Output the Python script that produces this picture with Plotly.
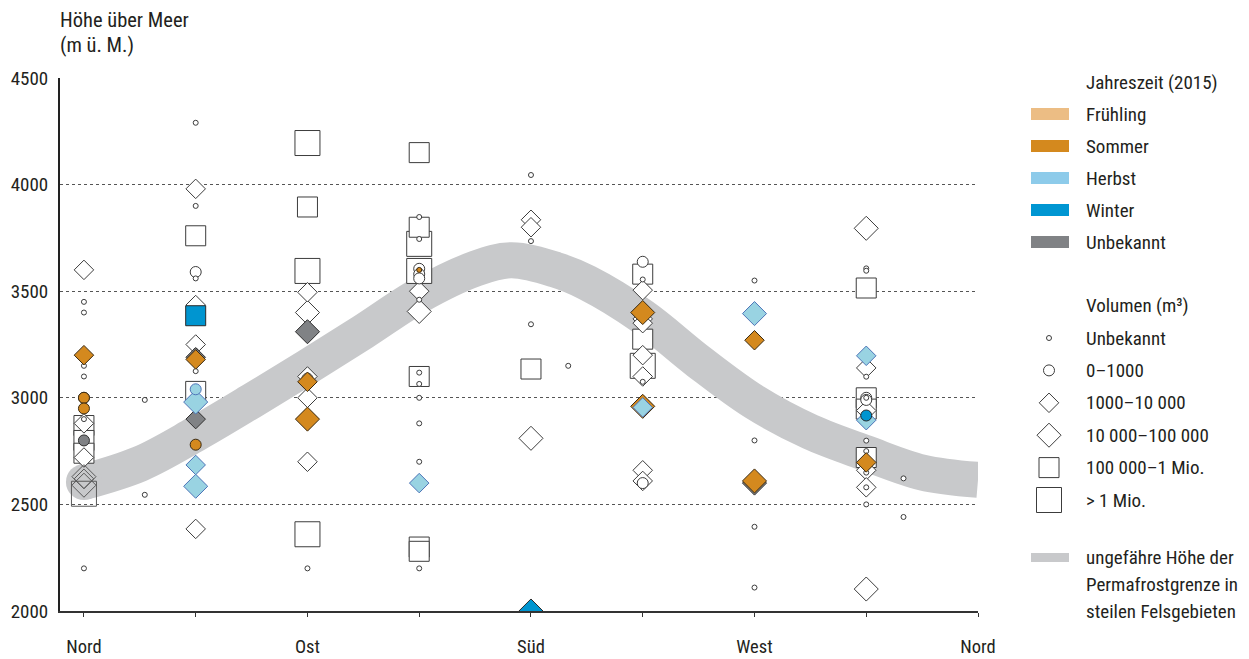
import plotly.graph_objects as go

W, H = 1249, 659

# --- axes -------------------------------------------------------------
RICHTUNG_TICKS = [0, 45, 90, 135, 180, 225, 270, 315, 360]
RICHTUNG_TEXT = ["Nord", "", "Ost", "", "Süd", "", "West", "", "Nord"]
HOEHE_TICKS = [2000, 2500, 3000, 3500, 4000, 4500]

# --- approximate permafrost limit in steep rock (centre of the band) ---
PERMAFROST_AZ = [0, 22.5, 45, 67.5, 90, 112.5, 135, 157.5, 172, 190, 202.5,
                 225, 247.5, 270, 292.5, 315, 337.5, 360]
PERMAFROST_H = [2605, 2690, 2830, 2985, 3145, 3310, 3480, 3605, 3645, 3600, 3540,
                3380, 3170, 2980, 2840, 2740, 2650, 2615]

# --- rockfall events 2015 ---------------------------------------------
# season: "-" no colour, "o" unfilled, "Un" unknown, "So" summer, "He" autumn, "Wi" winter
# volume: "u" unknown, "k" 0-1000, "d1" 1000-10 000, "d2" 10 000-100 000,
#         "q1" 100 000-1 Mio., "q2" > 1 Mio.
AZIMUT = (
    [0] * 21 + [24.5] * 2 +
    [45] * 21 +
    [90] * 14 +
    [135] * 23 +
    [180] * 8 + [195] +
    [225] * 17 +
    [270] * 8 +
    [315] * 26 + [330] * 2
)
HOEHE = [
    # Nord
    3600, 3450, 3400, 3200, 3150, 3100, 3000, 3000, 2950, 2900, 2880,
    2870, 2800, 2800, 2740, 2720, 2630, 2590, 2550, 2620, 2200,
    2990, 2545,
    # Nordost
    4290, 3980, 3900, 3760, 3590, 3560, 3435, 3385, 3250, 3220, 3190,
    3180, 3125, 3030, 3040, 2980, 2900, 2780, 2685, 2585, 2385,
    # Ost
    4195, 3895, 3595, 3495, 3400, 3310, 3100, 3090, 3075, 3000, 2900,
    2700, 2360, 2200,
    # Südost
    4150, 3848, 3800, 3745, 3722, 3595, 3605, 3580, 3560, 3600, 3500,
    3460, 3405, 3100, 3118, 3065, 3000, 2880, 2700, 2600, 2300, 2280, 2200,
    # Süd
    4045, 3835, 3800, 3735, 3345, 3135, 2810, 2000,
    3150,
    # Südwest
    3638, 3580, 3555, 3505, 3370, 3350, 3400, 3275, 3150, 3200, 3100,
    3075, 2960, 2955, 2660, 2610, 2600,
    # West
    3550, 3395, 3270, 2800, 2600, 2610, 2395, 2110,
    # Nordwest
    3795, 3607, 3596, 3515, 3197, 3140, 3175, 3099, 3000, 3000, 2990,
    3000, 2947, 2940, 2917, 2895, 2799, 2750, 2720, 2697, 2660, 2649,
    2580, 2580, 2500, 2103,
    2622, 2441,
]
SAISON = [
    # Nord
    "-", "-", "-", "So", "-", "-", "-", "So", "So", "-", "-",
    "-", "-", "Un", "-", "-", "o", "o", "o", "o", "-",
    "-", "-",
    # Nordost
    "-", "-", "-", "-", "-", "-", "-", "Wi", "-", "-", "Un",
    "So", "-", "-", "He", "He", "Un", "So", "He", "He", "-",
    # Ost
    "-", "-", "-", "-", "-", "Un", "-", "-", "So", "-", "So",
    "-", "-", "-",
    # Südost
    "-", "-", "-", "-", "-", "-", "-", "-", "-", "So", "-",
    "-", "-", "-", "-", "-", "-", "-", "-", "He", "-", "-", "-",
    # Süd
    "-", "-", "-", "-", "-", "-", "-", "Wi",
    "-",
    # Südwest
    "-", "-", "-", "-", "-", "-", "So", "-", "-", "-", "-",
    "-", "So", "He", "-", "-", "-",
    # West
    "-", "He", "So", "-", "Un", "So", "-", "-",
    # Nordwest
    "-", "-", "-", "-", "He", "-", "-", "-", "-", "-", "-",
    "-", "-", "-", "Wi", "He", "-", "-", "-", "So", "-", "-",
    "-", "-", "-", "-",
    "-", "-",
]
VOLUMEN = [
    # Nord
    "d1", "u", "u", "d1", "u", "u", "k", "k", "k", "u", "d1",
    "q1", "q1", "k", "q1", "d1", "d2", "d2", "q2", "d1", "u",
    "u", "u",
    # Nordost
    "u", "d1", "u", "q1", "k", "u", "d1", "q1", "d1", "u", "d1",
    "d1", "u", "q1", "k", "d2", "d1", "k", "d1", "d2", "d1",
    # Ost
    "q2", "q1", "q2", "d1", "d2", "d2", "d1", "k", "d1", "d1", "d2",
    "d1", "q2", "u",
    # Südost
    "q1", "u", "q1", "u", "q2", "q2", "k", "k", "k", "u", "d1",
    "u", "d2", "q1", "u", "u", "u", "u", "u", "d1", "q1", "q1", "u",
    # Süd
    "u", "d1", "d1", "u", "u", "q1", "d2", "d2",
    "u",
    # Südwest
    "k", "q1", "u", "d1", "d1", "d1", "d2", "q1", "q2", "d1", "d1",
    "u", "d2", "d1", "d1", "d1", "k",
    # West
    "u", "d2", "d1", "u", "d2", "d2", "u", "u",
    # Nordwest
    "d2", "u", "u", "q1", "d1", "d1", "u", "u", "q1", "k", "k",
    "u", "q1", "d1", "k", "d1", "u", "u", "q1", "d1", "d1", "u",
    "d1", "u", "u", "d2",
    "u", "u",
]

# --- legend content ---------------------------------------------------
SAISON_LABELS = ["Frühling", "Sommer", "Herbst", "Winter", "Unbekannt"]
SAISON_FARBEN = ["#ecbd84", "#d4891e", "#8dcbea", "#0096d2", "#808285"]
VOLUMEN_LABELS = ["Unbekannt", "0\u20131000", "1000\u201310\u00a0000",
                  "10\u00a0000\u2013100\u00a0000", "100\u00a0000\u20131 Mio.", "> 1 Mio."]
VOLUMEN_CODES = ["u", "k", "d1", "d2", "q1", "q2"]
BAND_LABEL = ["ungefähre Höhe der", "Permafrostgrenze in", "steilen Felsgebieten"]

# --- styling ----------------------------------------------------------
FONT = "Liberation Sans Narrow, Arial Narrow, Roboto Condensed, Roboto, sans-serif"
FS = 19
TXT = "#231f20"
BAND = "#c8c9cb"
SIZE = {"u": 5, "k": 11, "d1": 15, "d2": 18.5, "q1": 20, "q2": 25}
SYMBOL = {"u": "circle", "k": "circle", "d1": "diamond", "d2": "diamond",
          "q1": "square", "q2": "square"}
RANK = {"q2": 0, "q1": 1, "d2": 2, "d1": 3, "k": 4, "u": 5}
STIL = {
    "-": ("#ffffff", "#3c3c3c"),
    "o": ("rgba(0,0,0,0)", "#5a5a5a"),
    "Un": ("#808285", "#2d2d2d"),
    "So": ("#d4891e", "#3a2a12"),
    "He": ("#99d3e2", "#4d74b8"),
    "Wi": ("#0095d0", "#2a2a2a"),
}

# plot area in pixels
PX_L, PX_R, PX_T, PX_B = 60, 978, 78, 611

fig = go.Figure()

# permafrost band (thick smoothed line with a round start)
fig.add_trace(go.Scatter(
    x=PERMAFROST_AZ, y=PERMAFROST_H, mode="lines",
    line=dict(color=BAND, width=36, shape="spline", smoothing=1.0),
    hoverinfo="skip", showlegend=False))
fig.add_trace(go.Scatter(
    x=PERMAFROST_AZ[:1], y=PERMAFROST_H[:1], mode="markers",
    marker=dict(size=36, color=BAND, opacity=1, line=dict(width=0)),
    hoverinfo="skip", showlegend=False))

# events, one trace per season, large symbols first
n = len(HOEHE)
for s in ["-", "o", "Un", "So", "He", "Wi"]:
    idx = sorted([i for i in range(n) if SAISON[i] == s], key=lambda i: RANK[VOLUMEN[i]])
    if not idx:
        continue
    fill, edge = STIL[s]
    fig.add_trace(go.Scatter(
        x=[AZIMUT[i] for i in idx], y=[HOEHE[i] for i in idx], mode="markers",
        marker=dict(symbol=[SYMBOL[VOLUMEN[i]] for i in idx],
                    size=[SIZE[VOLUMEN[i]] for i in idx], opacity=1,
                    color=fill, line=dict(color=edge, width=1)),
        hoverinfo="skip", showlegend=False))

# ---- legend (pixel coordinate overlay axes) ----
LX_SW0, LX_SW1, LX_TXT, LX_SYM = 1031, 1069, 1084, 1049
shapes = []
annotations = []


def label(x, y, text, size=FS):
    annotations.append(dict(x=x, y=y, xref="x2", yref="y2", text=text, showarrow=False,
                            xanchor="left", yanchor="middle",
                            font=dict(family=FONT, size=size, color=TXT)))


label(LX_TXT, 82, "Jahreszeit (2015)")
for k, (lab, col) in enumerate(zip(SAISON_LABELS, SAISON_FARBEN)):
    yc = 114 + 32 * k
    shapes.append(dict(type="rect", xref="x2", yref="y2", x0=LX_SW0, x1=LX_SW1,
                       y0=yc - 6, y1=yc + 6, fillcolor=col, line=dict(width=0), layer="above"))
    label(LX_TXT, yc, lab)

label(LX_TXT, 305, "Volumen (m\u00b3)")
vol_y = [338 + 32.4 * k for k in range(len(VOLUMEN_CODES))]
fig.add_trace(go.Scatter(
    x=[LX_SYM] * len(VOLUMEN_CODES), y=vol_y, xaxis="x2", yaxis="y2", mode="markers",
    marker=dict(symbol=[SYMBOL[c] for c in VOLUMEN_CODES], size=[SIZE[c] for c in VOLUMEN_CODES],
                color="#ffffff", opacity=1, line=dict(color="#3c3c3c", width=1)),
    hoverinfo="skip", showlegend=False, cliponaxis=False))
for lab, yc in zip(VOLUMEN_LABELS, vol_y):
    label(LX_TXT, yc, lab)

shapes.append(dict(type="rect", xref="x2", yref="y2", x0=LX_SW0, x1=LX_SW1,
                   y0=553, y1=562, fillcolor=BAND, line=dict(width=0), layer="above"))
for k, line_txt in enumerate(BAND_LABEL):
    label(LX_TXT, 557 + 27 * k, line_txt)

# y axis title
label(58, 20, "Höhe über Meer", size=20.5)
label(58, 45, "(m ü. M.)", size=20.5)

fig.update_layout(
    width=W, height=H,
    margin=dict(l=0, r=0, t=0, b=0, autoexpand=False),
    paper_bgcolor="white", plot_bgcolor="rgba(0,0,0,0)",
    font=dict(family=FONT, size=FS, color=TXT),
    showlegend=False,
    shapes=shapes, annotations=annotations,
    xaxis=dict(domain=[PX_L / W, PX_R / W], range=[-9.64, 360], automargin=False,
               tickvals=RICHTUNG_TICKS, ticktext=RICHTUNG_TEXT,
               showline=True, linecolor="#333333", linewidth=1.5,
               ticks="outside", ticklen=4, tickwidth=1.2, tickcolor="#333333",
               ticklabelstandoff=14, showgrid=False, zeroline=False,
               tickfont=dict(family=FONT, size=18.5, color=TXT), fixedrange=True),
    yaxis=dict(domain=[1 - PX_B / H, 1 - PX_T / H], range=[2000, 4500], automargin=False,
               tickvals=HOEHE_TICKS, showline=True, linecolor="#222222", linewidth=2,
               ticks="outside", ticklen=6, tickcolor="rgba(0,0,0,0)",
               showgrid=True, gridcolor="#555555", gridwidth=1, griddash="3px,3px",
               zeroline=False, tickfont=dict(family=FONT, size=FS, color=TXT), fixedrange=True),
    xaxis2=dict(domain=[0, 1], range=[0, W], visible=False, fixedrange=True, automargin=False),
    yaxis2=dict(domain=[0, 1], range=[H, 0], visible=False, fixedrange=True, automargin=False),
)

fig.write_html("out.html")
